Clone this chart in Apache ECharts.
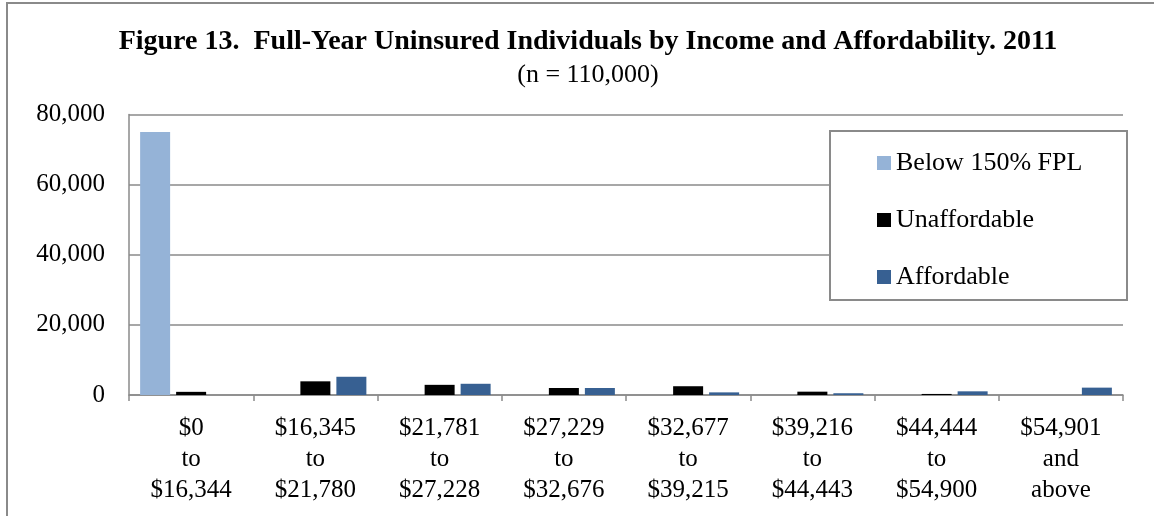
<!DOCTYPE html>
<html>
<head>
<meta charset="utf-8">
<script src="https://cdn.jsdelivr.net/npm/echarts@6/dist/echarts.min.js"></script>
<style>
html,body{margin:0;padding:0;background:#fff;}
#chart{width:1154px;height:516px;}
</style>
</head>
<body>
<div id="chart"></div>
<script>
const categories = [
  "$0\nto\n$16,344",
  "$16,345\nto\n$21,780",
  "$21,781\nto\n$27,228",
  "$27,229\nto\n$32,676",
  "$32,677\nto\n$39,215",
  "$39,216\nto\n$44,443",
  "$44,444\nto\n$54,900",
  "$54,901\nand\nabove"
];
const seriesNames = ["Below 150% FPL", "Unaffordable", "Affordable"];
const below150 = [75000, null, null, null, null, null, null, null];
const unaffordable = [900, 3900, 2900, 2000, 2500, 950, 300, null];
const affordable = [null, 5200, 3200, 2000, 750, 500, 1050, 2100];
const yTicks = [0, 20000, 40000, 60000, 80000];

const FONT = '"Liberation Serif", "DejaVu Serif", serif';
const GRID_COLOR = '#8a8a8a';

const chart = echarts.init(document.getElementById('chart'), null, {renderer: 'canvas'});
chart.setOption({
  animation: false,
  backgroundColor: '#fff',
  title: {
    text: 'Figure 13.  Full-Year Uninsured Individuals by Income and Affordability. 2011',
    subtext: '(n = 110,000)',
    left: 583,
    textAlign: 'center',
    top: 23,
    itemGap: 6,
    textStyle: {fontFamily: FONT, fontWeight: 'bold', fontSize: 28, color: '#000'},
    subtextStyle: {fontFamily: FONT, fontSize: 26, color: '#000'}
  },
  graphic: [
    {type: 'rect', shape: {x: 7, y: 3, width: 1170, height: 530}, style: {fill: null, stroke: '#8a8a8a', lineWidth: 2}, silent: true, z: -1},
    {type: 'rect', shape: {x: 830, y: 131, width: 297, height: 169}, style: {fill: '#fff', stroke: '#8a8a8a', lineWidth: 2}, silent: true, z: 5}
  ],
  legend: {
    orient: 'vertical',
    left: 872,
    top: 145,
    z: 10,
    icon: 'rect',
    itemWidth: 14,
    itemHeight: 14,
    itemGap: 31,
    data: seriesNames,
    textStyle: {fontFamily: FONT, fontSize: 26, color: '#000', lineHeight: 26}
  },
  grid: {left: 129, right: 31, top: 114.5, bottom: 121, containLabel: false},
  xAxis: {
    type: 'category',
    data: categories,
    axisLine: {show: true, lineStyle: {color: GRID_COLOR, width: 1.5}},
    axisTick: {show: true, length: 6, lineStyle: {color: GRID_COLOR, width: 1.5}},
    axisLabel: {fontFamily: FONT, fontSize: 25, color: '#000', lineHeight: 31, margin: 18, interval: 0}
  },
  yAxis: {
    type: 'value',
    min: yTicks[0],
    max: yTicks[yTicks.length - 1],
    interval: yTicks[1] - yTicks[0],
    axisLine: {show: true, lineStyle: {color: GRID_COLOR, width: 1.5}},
    axisTick: {show: false},
    splitLine: {show: true, lineStyle: {color: GRID_COLOR, width: 1.5}},
    axisLabel: {
      fontFamily: FONT, fontSize: 25, color: '#000', margin: 24,
      formatter: v => v.toLocaleString('en-US')
    }
  },
  series: [
    {name: seriesNames[0], type: 'bar', data: below150, barWidth: 30, barGap: '20%', itemStyle: {color: '#95B3D7'}},
    {name: seriesNames[1], type: 'bar', data: unaffordable, barWidth: 30, barGap: '20%', itemStyle: {color: '#000000'}},
    {name: seriesNames[2], type: 'bar', data: affordable, barWidth: 30, barGap: '20%', itemStyle: {color: '#376092'}}
  ]
});
</script>
</body>
</html>
